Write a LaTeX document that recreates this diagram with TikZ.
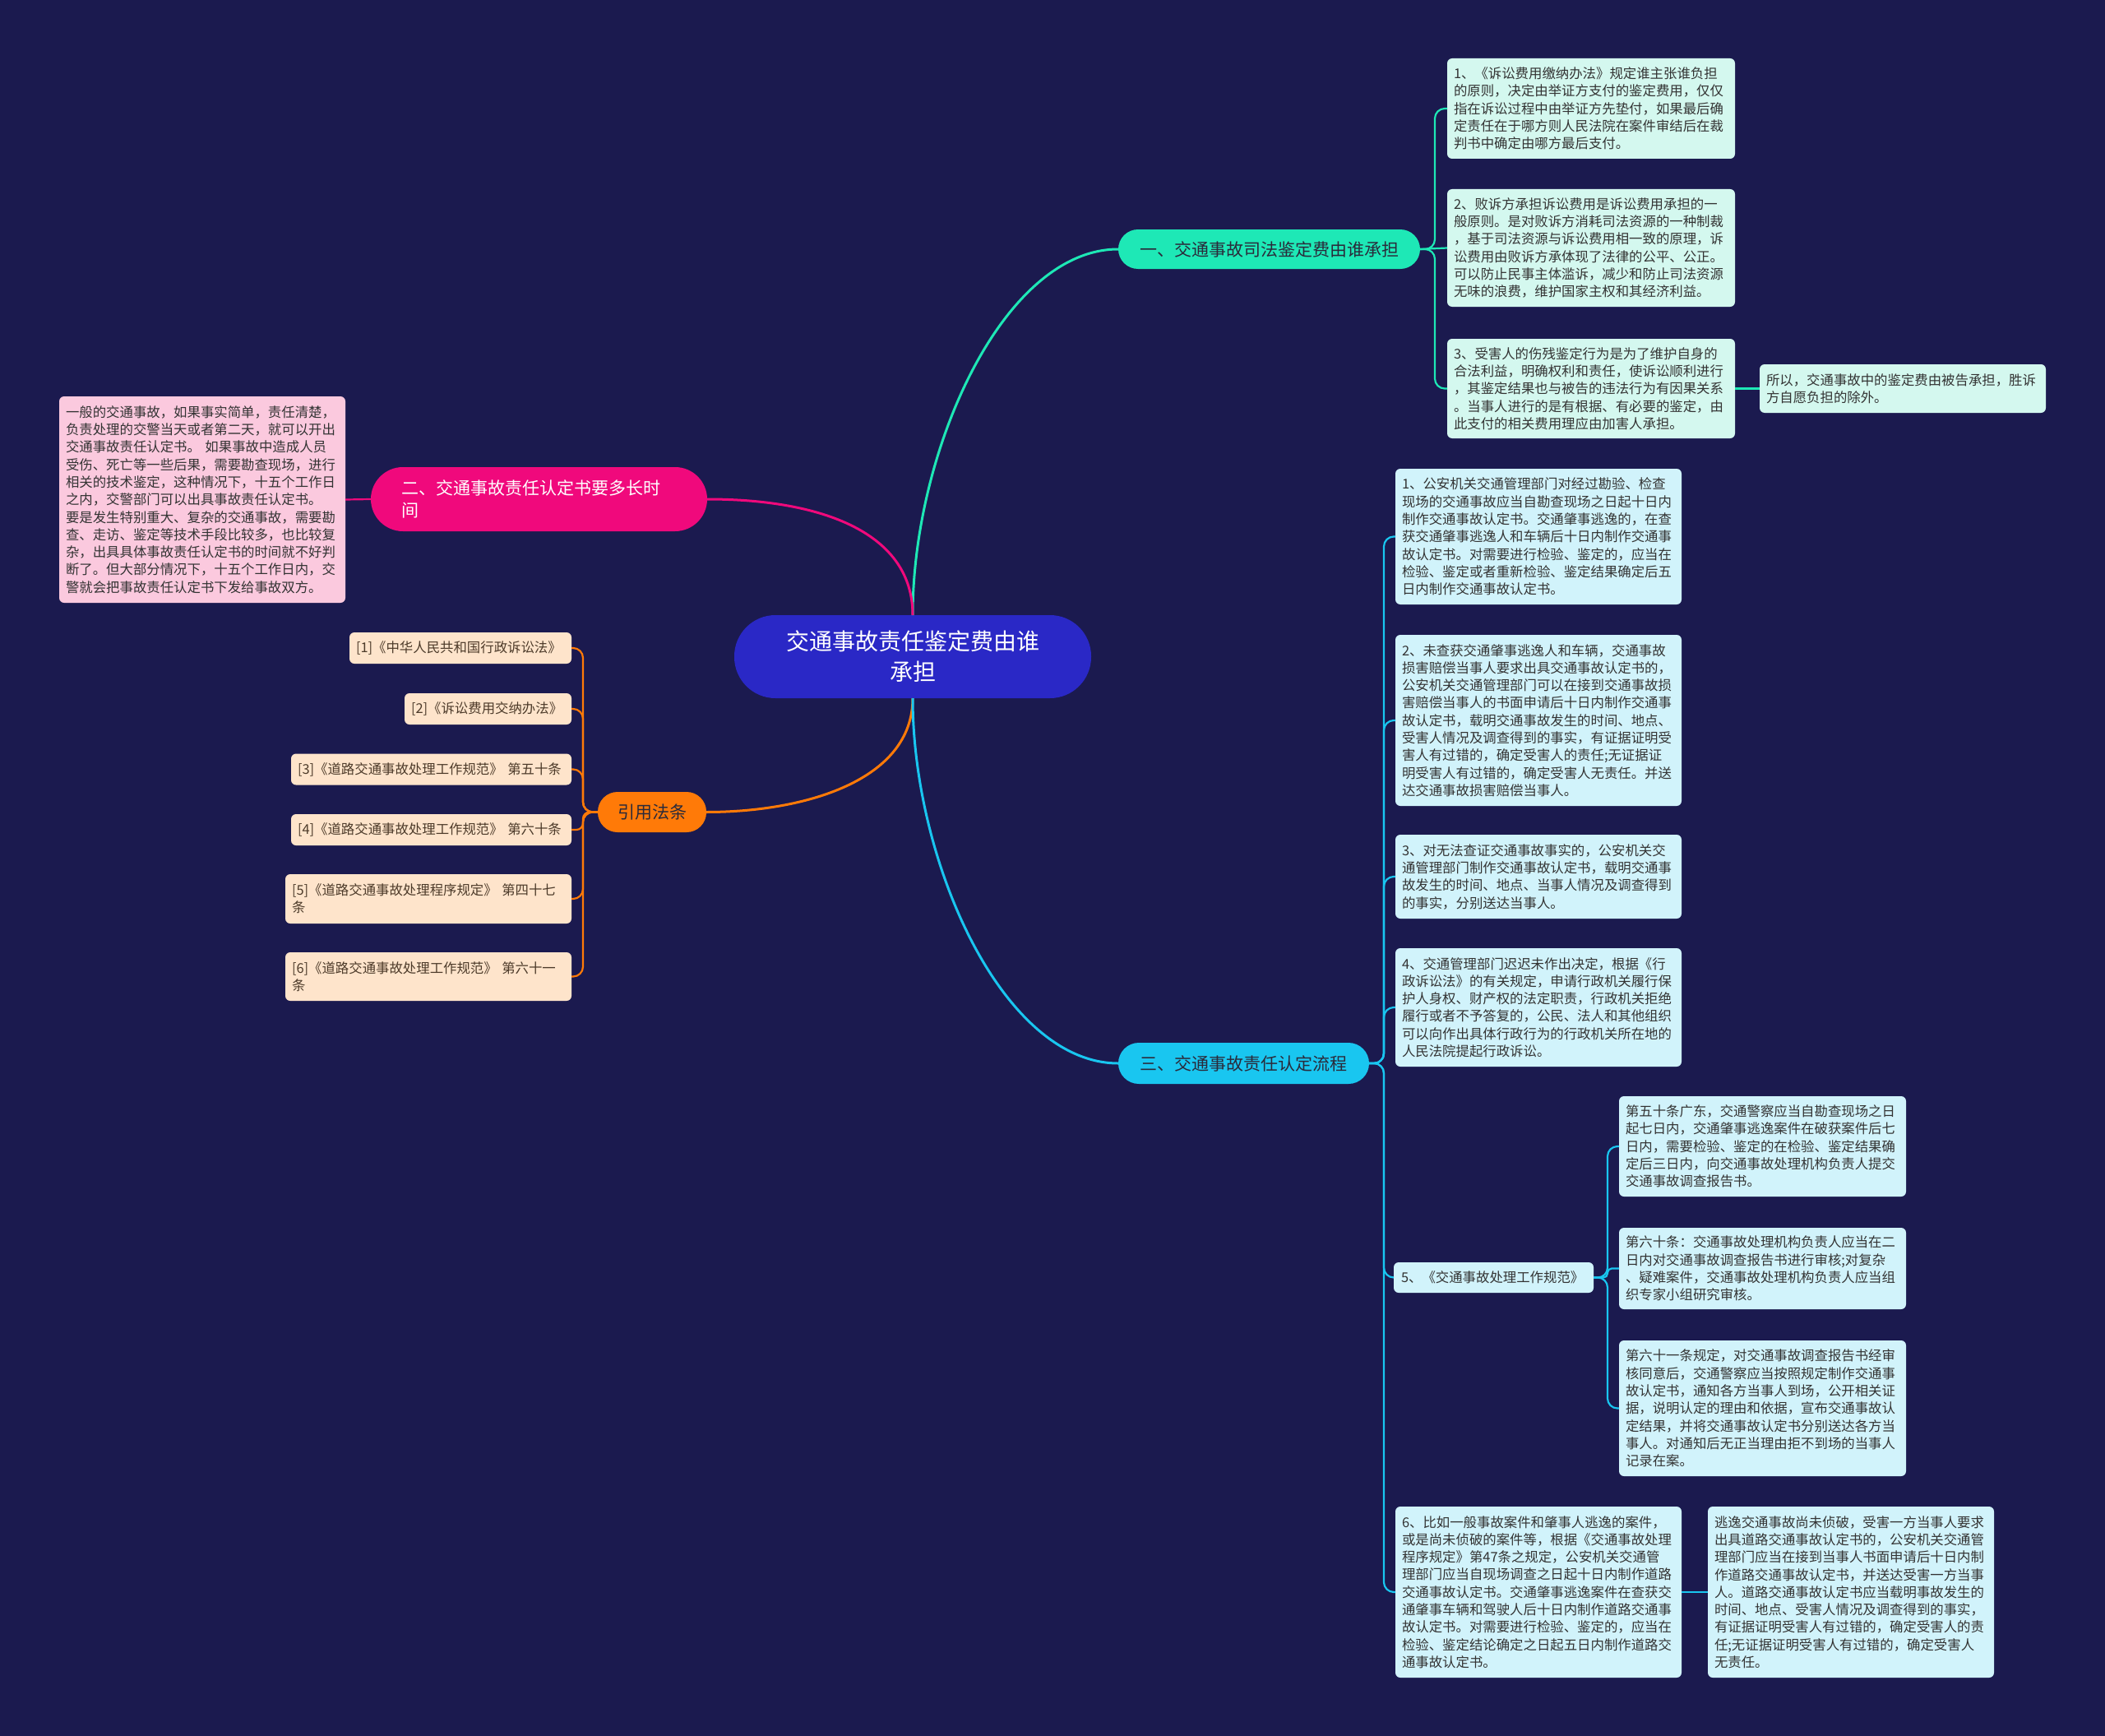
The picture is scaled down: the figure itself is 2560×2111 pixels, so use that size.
\documentclass[tikz,border=0pt]{standalone}
\usepackage{fontspec}
\setmainfont{Noto Sans CJK SC}
\usetikzlibrary{calc}
\definecolor{bg}{HTML}{1B1A4F}
\definecolor{cnode}{HTML}{2A28C6}
\definecolor{teal1}{HTML}{1EE8B6}
\definecolor{pink1}{HTML}{F0097C}
\definecolor{orange1}{HTML}{FF7A08}
\definecolor{cyan1}{HTML}{19C6F0}
\definecolor{tealbox}{HTML}{D4F8EF}
\definecolor{pinkbox}{HTML}{FBC9DE}
\definecolor{peachbox}{HTML}{FEE4CB}
\definecolor{cyanbox}{HTML}{D1F3FB}
\definecolor{txt}{HTML}{333333}
\definecolor{txtb}{HTML}{4D3B2A}
\definecolor{txt2}{HTML}{2A2A3A}
\newcommand{\FontLeaf}{\fontsize{16.4}{21.3}\selectfont}
\newcommand{\FontBranch}{\fontsize{21}{27}\selectfont}
\newcommand{\FontRoot}{\fontsize{28}{37}\selectfont}
\begin{document}
\begin{tikzpicture}[x=1pt,y=-1pt,
  every node/.style={outer sep=0pt},
  leaf/.style={rectangle, rounded corners=6pt, inner xsep=8pt, inner ysep=3pt, align=left, font=\FontLeaf, text=txt},
  pill/.style={rectangle, inner sep=0pt, align=center},
  mainln/.style={line width=3pt},
  subln/.style={line width=2.2pt, rounded corners=12pt}]
\fill[bg] (0,0) rectangle (2560,2111);
\useasboundingbox (0,0) rectangle (2560,2111);

% main nodes
\node[pill, fill=cnode, minimum width=434pt, minimum height=101pt, rounded corners=50pt, text=white, font=\FontRoot] (root) at (1110,798.5) {交通事故责任鉴定费由谁\\承担};
\node[pill, fill=teal1, minimum width=367pt, minimum height=48pt, rounded corners=24pt, text=txt2, font=\FontBranch] (n1) at (1543.5,303) {一、交通事故司法鉴定费由谁承担};
\node[pill, fill=pink1, text width=335pt, inner xsep=37pt, align=left, minimum height=78pt, rounded corners=39pt, text=white, font=\FontBranch] (n2) at (655.5,607) {二、交通事故责任认定书要多长时\\间};
\node[pill, fill=orange1, minimum width=132pt, minimum height=49pt, rounded corners=24pt, text=txt2, font=\FontBranch] (n3) at (793,987.5) {引用法条};
\node[pill, fill=cyan1, minimum width=305pt, minimum height=50pt, rounded corners=25pt, text=txt2, font=\FontBranch] (n4) at (1512.5,1293) {三、交通事故责任认定流程};

% branch 1 leaves
\node[leaf, fill=tealbox, text width=334pt, minimum height=122pt] (b11) at (1935,132) {1、《诉讼费用缴纳办法》规定谁主张谁负担\\的原则，决定由举证方支付的鉴定费用，仅仅\\指在诉讼过程中由举证方先垫付，如果最后确\\定责任在于哪方则人民法院在案件审结后在裁\\判书中确定由哪方最后支付。};
\node[leaf, fill=tealbox, text width=334pt, minimum height=143pt] (b12) at (1935,301.5) {2、败诉方承担诉讼费用是诉讼费用承担的一\\般原则。是对败诉方消耗司法资源的一种制裁\\，基于司法资源与诉讼费用相一致的原理，诉\\讼费用由败诉方承体现了法律的公平、公正。\\可以防止民事主体滥诉，减少和防止司法资源\\无味的浪费，维护国家主权和其经济利益。};
\node[leaf, fill=tealbox, text width=334pt, minimum height=121pt] (b13) at (1935,472.5) {3、受害人的伤残鉴定行为是为了维护自身的\\合法利益，明确权利和责任，使诉讼顺利进行\\，其鉴定结果也与被告的违法行为有因果关系\\。当事人进行的是有根据、有必要的鉴定，由\\此支付的相关费用理应由加害人承担。};
\node[leaf, fill=tealbox, text width=332pt, minimum height=59pt] (b1a) at (2314,472.5) {所以，交通事故中的鉴定费由被告承担，胜诉\\方自愿负担的除外。};

% branch 2 leaf
\node[leaf, fill=pinkbox, text width=332pt, minimum height=251pt] (pk) at (246,607.5) {一般的交通事故，如果事实简单，责任清楚，\\负责处理的交警当天或者第二天，就可以开出\\交通事故责任认定书。 如果事故中造成人员\\受伤、死亡等一些后果，需要勘查现场，进行\\相关的技术鉴定，这种情况下，十五个工作日\\之内，交警部门可以出具事故责任认定书。\\要是发生特别重大、复杂的交通事故，需要勘\\查、走访、鉴定等技术手段比较多，也比较复\\杂，出具具体事故责任认定书的时间就不好判\\断了。但大部分情况下，十五个工作日内，交\\警就会把事故责任认定书下发给事故双方。};

% references
\node[leaf, fill=peachbox, text=txtb, text width=254pt, minimum height=38pt] (r1) at (560,788) {[1]《中华人民共和国行政诉讼法》};
\node[leaf, fill=peachbox, text=txtb, text width=187pt, minimum height=38pt] (r2) at (593.5,862) {[2]《诉讼费用交纳办法》};
\node[leaf, fill=peachbox, text=txtb, text width=325pt, minimum height=38pt] (r3) at (524.5,935.5) {[3]《道路交通事故处理工作规范》 第五十条};
\node[leaf, fill=peachbox, text=txtb, text width=325pt, minimum height=38pt] (r4) at (524.5,1009) {[4]《道路交通事故处理工作规范》 第六十条};
\node[leaf, fill=peachbox, text=txtb, text width=332pt, minimum height=60pt] (r5) at (521,1093) {[5]《道路交通事故处理程序规定》 第四十七\\条};
\node[leaf, fill=peachbox, text=txtb, text width=332pt, minimum height=59pt] (r6) at (521,1187.5) {[6]《道路交通事故处理工作规范》 第六十一\\条};

% branch 3 leaves
\node[leaf, fill=cyanbox, text width=332pt, minimum height=165pt] (c1) at (1871,652.5) {1、公安机关交通管理部门对经过勘验、检查\\现场的交通事故应当自勘查现场之日起十日内\\制作交通事故认定书。交通肇事逃逸的，在查\\获交通肇事逃逸人和车辆后十日内制作交通事\\故认定书。对需要进行检验、鉴定的，应当在\\检验、鉴定或者重新检验、鉴定结果确定后五\\日内制作交通事故认定书。};
\node[leaf, fill=cyanbox, text width=332pt, minimum height=208pt] (c2) at (1871,876) {2、未查获交通肇事逃逸人和车辆，交通事故\\损害赔偿当事人要求出具交通事故认定书的，\\公安机关交通管理部门可以在接到交通事故损\\害赔偿当事人的书面申请后十日内制作交通事\\故认定书，载明交通事故发生的时间、地点、\\受害人情况及调查得到的事实，有证据证明受\\害人有过错的，确定受害人的责任;无证据证\\明受害人有过错的，确定受害人无责任。并送\\达交通事故损害赔偿当事人。};
\node[leaf, fill=cyanbox, text width=332pt, minimum height=102pt] (c3) at (1871,1066) {3、对无法查证交通事故事实的，公安机关交\\通管理部门制作交通事故认定书，载明交通事\\故发生的时间、地点、当事人情况及调查得到\\的事实，分别送达当事人。};
\node[leaf, fill=cyanbox, text width=332pt, minimum height=144pt] (c4) at (1871,1225) {4、交通管理部门迟迟未作出决定，根据《行\\政诉讼法》的有关规定，申请行政机关履行保\\护人身权、财产权的法定职责，行政机关拒绝\\履行或者不予答复的，公民、法人和其他组织\\可以向作出具体行政行为的行政机关所在地的\\人民法院提起行政诉讼。};
\node[leaf, fill=cyanbox, text width=225pt, inner xsep=9pt, minimum height=37pt] (c5) at (1816.5,1553.5) {5、《交通事故处理工作规范》};
\node[leaf, fill=cyanbox, text width=333pt, minimum height=122pt] (d1) at (2143.5,1394) {第五十条广东，交通警察应当自勘查现场之日\\起七日内，交通肇事逃逸案件在破获案件后七\\日内，需要检验、鉴定的在检验、鉴定结果确\\定后三日内，向交通事故处理机构负责人提交\\交通事故调查报告书。};
\node[leaf, fill=cyanbox, text width=333pt, minimum height=99pt] (d2) at (2143.5,1542.5) {第六十条：交通事故处理机构负责人应当在二\\日内对交通事故调查报告书进行审核;对复杂\\、疑难案件，交通事故处理机构负责人应当组\\织专家小组研究审核。};
\node[leaf, fill=cyanbox, text width=333pt, minimum height=165pt] (d3) at (2143.5,1712.5) {第六十一条规定，对交通事故调查报告书经审\\核同意后，交通警察应当按照规定制作交通事\\故认定书，通知各方当事人到场，公开相关证\\据，说明认定的理由和依据，宣布交通事故认\\定结果，并将交通事故认定书分别送达各方当\\事人。对通知后无正当理由拒不到场的当事人\\记录在案。};
\node[leaf, fill=cyanbox, text width=332pt, minimum height=208pt] (c6) at (1871,1936) {6、比如一般事故案件和肇事人逃逸的案件，\\或是尚未侦破的案件等，根据《交通事故处理\\程序规定》第47条之规定，公安机关交通管\\理部门应当自现场调查之日起十日内制作道路\\交通事故认定书。交通肇事逃逸案件在查获交\\通肇事车辆和驾驶人后十日内制作道路交通事\\故认定书。对需要进行检验、鉴定的，应当在\\检验、鉴定结论确定之日起五日内制作道路交\\通事故认定书。};
\node[leaf, fill=cyanbox, text width=332pt, minimum height=208pt] (e1) at (2251,1936) {逃逸交通事故尚未侦破，受害一方当事人要求\\出具道路交通事故认定书的，公安机关交通管\\理部门应当在接到当事人书面申请后十日内制\\作道路交通事故认定书，并送达受害一方当事\\人。道路交通事故认定书应当载明事故发生的\\时间、地点、受害人情况及调查得到的事实，\\有证据证明受害人有过错的，确定受害人的责\\任;无证据证明受害人有过错的，确定受害人\\无责任。};

% main connectors
\draw[mainln, teal1] (root.north) .. controls +(0,-200) and +(-140,0) .. (n1.west);
\draw[mainln, pink1] (n2.east) .. controls +(140,0) and +(0,-100) .. (root.north);
\draw[mainln, orange1] (root.south) .. controls +(0,100) and +(120,0) .. (n3.east);
\draw[mainln, cyan1] (root.south) .. controls +(0,200) and +(-140,0) .. (n4.west);

% branch 1
\draw[subln, teal1] (n1.east) -- ++(18,0) |- (b11.west);
\draw[subln, teal1] (n1.east) -- (b12.west);
\draw[subln, teal1] (n1.east) -- ++(18,0) |- (b13.west);
\draw[subln, teal1] (b13.east) -- (b1a.west);
% branch 2
\draw[subln, pink1] (n2.west) -- (pk.east);
% references
\foreach \r in {r1,r2,r3,r5,r6}{
  \draw[subln, orange1] (n3.west) -- ++(-18,0) |- (\r.east);
}
\draw[subln, orange1, rounded corners=8pt] (n3.west) -- ++(-18,0) |- (r4.east);
% branch 3
\foreach \c in {c1,c2,c3,c4,c5,c6}{
  \draw[subln, cyan1] (n4.east) -- ++(18,0) |- (\c.west);
}
\draw[subln, cyan1] (c5.east) -- ++(17,0) |- (d1.west);
\draw[subln, cyan1, rounded corners=5pt] (c5.east) -- ++(17,0) |- (d2.west);
\draw[subln, cyan1] (c5.east) -- ++(17,0) |- (d3.west);
\draw[subln, cyan1] (c6.east) -- (e1.west);
\end{tikzpicture}
\end{document}
